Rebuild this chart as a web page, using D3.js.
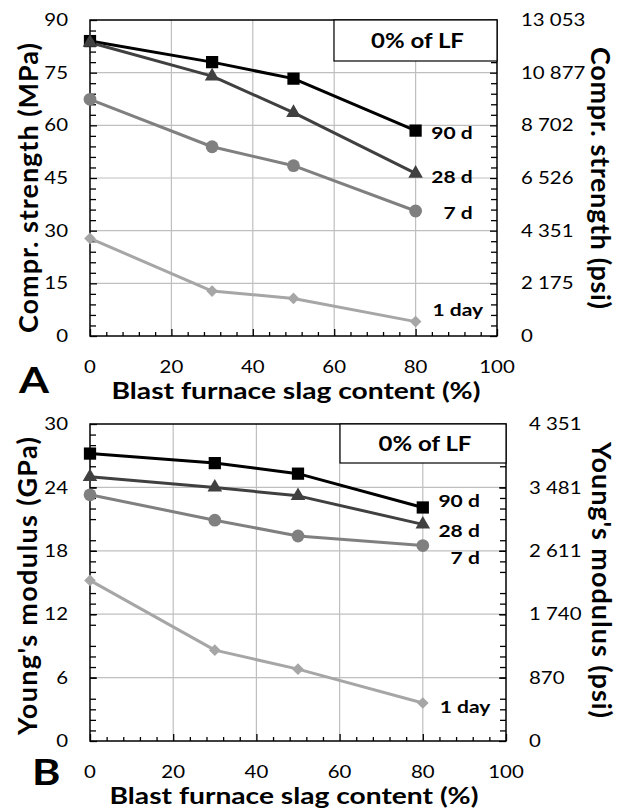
<!DOCTYPE html>
<html><head><meta charset="utf-8">
<script src="https://cdn.jsdelivr.net/npm/d3@7"></script>
<style>
body{margin:0;background:#fff;}
svg text{font-family:Lato,"Open Sans",sans-serif;fill:#000;}
</style>
</head><body>
<svg id="c" width="628" height="811"></svg>
<script>
// ---------- data ----------
const slagContent = [0, 30, 50, 80];
const seriesNames = ["90 d", "28 d", "7 d", "1 day"];
// Panel A: compressive strength (MPa)
const strength90d = [84.0, 78.0, 73.3, 58.5];
const strength28d = [83.6, 74.0, 63.6, 46.3];
const strength7d  = [67.4, 53.9, 48.5, 35.6];
const strength1d  = [27.8, 12.8, 10.7, 4.1];
// Panel B: Young's modulus (GPa)
const modulus90d = [27.2, 26.3, 25.3, 22.1];
const modulus28d = [25.0, 24.0, 23.2, 20.5];
const modulus7d  = [23.3, 20.9, 19.4, 18.5];
const modulus1d  = [15.2, 8.6, 6.8, 3.6];
// ticks
const xTicks = [0, 20, 40, 60, 80, 100];
const strengthTicks = [0, 15, 30, 45, 60, 75, 90];
const strengthPsiTicks = [0, 2175, 4351, 6526, 8702, 10877, 13053];
const modulusTicks = [0, 6, 12, 18, 24, 30];
const modulusPsiTicks = [0, 870, 1740, 2611, 3481, 4351];

// ---------- styles ----------
const SX = 1.2; // horizontal text stretch
const colors = ["#000000", "#404040", "#808080", "#a6a6a6"];
const symbols = [
  {type: d3.symbolSquare, size: 150, rot: 0},
  {type: d3.symbolTriangle, size: 92, rot: 0},
  {type: d3.symbolCircle, size: 128, rot: 0},
  {type: d3.symbolSquare, size: 68, rot: 45}
];
const fmt = d3.formatLocale({decimal: ".", thousands: " ", grouping: [3], currency: ["", ""]}).format(",d");
const svg = d3.select("#c");
const tr = (x, y) => `translate(${x},${y}) scale(${SX},1)`;

function panel(cfg) {
  const x = d3.scaleLinear().domain([0, 100]).range([cfg.l, cfg.r]);
  const y = d3.scaleLinear().domain([0, cfg.yTicks[cfg.yTicks.length - 1]]).range([cfg.b, cfg.t]);
  const yPsi = d3.scaleLinear().domain([0, cfg.psiTicks[cfg.psiTicks.length - 1]]).range([cfg.b, cfg.t]);
  const g = svg.append("g");
  const yMax = y.domain()[1];

  // gridlines
  g.append("g").selectAll("line").data(xTicks.slice(1, -1)).join("line")
    .attr("x1", d => x(d)).attr("x2", d => x(d)).attr("y1", cfg.t).attr("y2", cfg.b)
    .attr("stroke", "#bfbfbf").attr("stroke-width", 1.2);
  g.append("g").selectAll("line").data(cfg.yTicks.slice(1, -1)).join("line")
    .attr("y1", d => y(d)).attr("y2", d => y(d)).attr("x1", cfg.l).attr("x2", cfg.r)
    .attr("stroke", "#bfbfbf").attr("stroke-width", 1.2);

  // ticks (inside)
  const xMinor = d3.range(0, 101, 4).filter(v => v % 20 !== 0);
  const yMinor = d3.range(1, 30).filter(i => i % 5 !== 0).map(i => i * yMax / 30);
  const ax = (sel, axis) => { sel.call(axis); sel.select(".domain").remove(); sel.selectAll("text").remove(); sel.selectAll("line").attr("stroke", "#000").attr("stroke-width", 1.3); };

  g.append("g").attr("transform", `translate(0,${cfg.b})`)
    .call(s => ax(s, d3.axisBottom(x).tickValues(xMinor).tickSize(-4)));
  g.append("g").attr("transform", `translate(0,${cfg.b})`)
    .call(s => ax(s, d3.axisBottom(x).tickValues(xTicks).tickSize(-7)));
  g.append("g").attr("transform", `translate(${cfg.l},0)`)
    .call(s => ax(s, d3.axisLeft(y).tickValues(yMinor).tickSize(-6)));
  g.append("g").attr("transform", `translate(${cfg.r},0)`)
    .call(s => ax(s, d3.axisRight(y).tickValues(yMinor).tickSize(-6)));
  g.append("g").attr("transform", `translate(${cfg.l},0)`)
    .call(s => ax(s, d3.axisLeft(y).tickValues(cfg.yTicks).tickSize(-7)));
  g.append("g").attr("transform", `translate(${cfg.r},0)`)
    .call(s => ax(s, d3.axisRight(yPsi).tickValues(cfg.psiTicks).tickSize(-7)));

  // frame
  g.append("rect").attr("x", cfg.l).attr("y", cfg.t).attr("width", cfg.r - cfg.l).attr("height", cfg.b - cfg.t)
    .attr("fill", "none").attr("stroke", "#000").attr("stroke-width", 1.5);

  // tick labels
  g.append("g").selectAll("text").data(cfg.yTicks).join("text")
    .attr("transform", d => tr(cfg.l - 22, y(d))).attr("dy", "0.36em").attr("text-anchor", "end")
    .attr("font-size", 17).text(d => d);
  g.append("g").selectAll("text").data(cfg.psiTicks).join("text")
    .attr("transform", d => tr(cfg.r + cfg.psiPad, yPsi(d))).attr("dy", "0.36em").attr("text-anchor", "start")
    .attr("font-size", 17).text(d => fmt(d));
  g.append("g").selectAll("text").data(xTicks).join("text")
    .attr("transform", d => tr(x(d), cfg.b + 37)).attr("text-anchor", "middle")
    .attr("font-size", 17).text(d => d);

  // legend box
  g.append("rect").attr("x", cfg.boxX).attr("y", cfg.t).attr("width", cfg.r - cfg.boxX).attr("height", cfg.boxH)
    .attr("fill", "#fff").attr("stroke", "#000").attr("stroke-width", 1.2);
  g.append("text").attr("transform", tr((cfg.boxX + cfg.r) / 2 + 2, cfg.t + cfg.boxH / 2)).attr("dy", "0.36em")
    .attr("text-anchor", "middle").attr("font-size", 20).attr("font-weight", 700).text("0% of LF");

  // series
  const line = d3.line().x((d, i) => x(slagContent[i])).y(d => y(d));
  cfg.series.forEach((vals, k) => {
    g.append("path").datum(vals).attr("d", line).attr("fill", "none")
      .attr("stroke", colors[k]).attr("stroke-width", 3).attr("stroke-linejoin", "round");
  });
  cfg.series.forEach((vals, k) => {
    const sym = d3.symbol().type(symbols[k].type).size(symbols[k].size);
    g.append("g").selectAll("path").data(vals).join("path")
      .attr("d", sym)
      .attr("transform", (d, i) => `translate(${x(slagContent[i])},${y(d)}) rotate(${symbols[k].rot})`)
      .attr("fill", colors[k]);
    const last = vals[vals.length - 1];
    const isStart = k === 3;
    g.append("text")
      .attr("transform", tr(x(slagContent[slagContent.length - 1]) + (isStart ? 17 : 57), y(last) + cfg.labelDy[k]))
      .attr("dy", "0.36em")
      .attr("text-anchor", isStart ? "start" : "end")
      .attr("font-size", 17.5).attr("font-weight", 700).text(seriesNames[k]);
  });

  // titles
  g.append("text").attr("transform", `translate(${cfg.leftTitleX},${cfg.leftTitleY}) rotate(-90)`)
    .attr("text-anchor", "middle").attr("font-size", 27).attr("font-weight", 700)
    .attr("textLength", cfg.leftTitleLen).attr("lengthAdjust", "spacing").text(cfg.yTitle);
  g.append("text").attr("transform", `translate(${cfg.rightTitleX},${cfg.rightTitleY}) rotate(90)`)
    .attr("text-anchor", "middle").attr("font-size", 27).attr("font-weight", 700)
    .attr("textLength", cfg.rightTitleLen).attr("lengthAdjust", "spacing").text(cfg.psiTitle);
  g.append("text").attr("transform", tr(cfg.xTitleX, cfg.xTitleY)).attr("text-anchor", "middle")
    .attr("font-size", 23.5).attr("font-weight", 700).text("Blast furnace slag content (%)");
  g.append("text").attr("transform", tr(cfg.letterX, cfg.letterY)).attr("text-anchor", "start")
    .attr("font-size", 36).attr("font-weight", 700).text(cfg.letter);
}

panel({
  l: 90, r: 497, t: 20, b: 336, psiPad: 24,
  yTicks: strengthTicks, psiTicks: strengthPsiTicks,
  series: [strength90d, strength28d, strength7d, strength1d],
  labelDy: [2, 3, 2, -12],
  boxX: 334, boxH: 41,
  yTitle: "Compr. strength (MPa)", psiTitle: "Compr. strength (psi)",
  leftTitleX: 38, leftTitleY: 188, leftTitleLen: 290,
  rightTitleX: 591, rightTitleY: 178, rightTitleLen: 262,
  xTitleX: 296, xTitleY: 399,
  letter: "A", letterX: 19, letterY: 393
});
panel({
  l: 90, r: 506, t: 424, b: 741, psiPad: 23,
  yTicks: modulusTicks, psiTicks: modulusPsiTicks,
  series: [modulus90d, modulus28d, modulus7d, modulus1d],
  labelDy: [-7, 6, 12, 4],
  boxX: 340, boxH: 39,
  yTitle: "Young's modulus (GPa)", psiTitle: "Young's modulus (psi)",
  leftTitleX: 37, leftTitleY: 586, leftTitleLen: 298,
  rightTitleX: 592, rightTitleY: 580, rightTitleLen: 276,
  xTitleX: 294, xTitleY: 804,
  letter: "B", letterX: 32, letterY: 785
});
</script>
</body></html>
